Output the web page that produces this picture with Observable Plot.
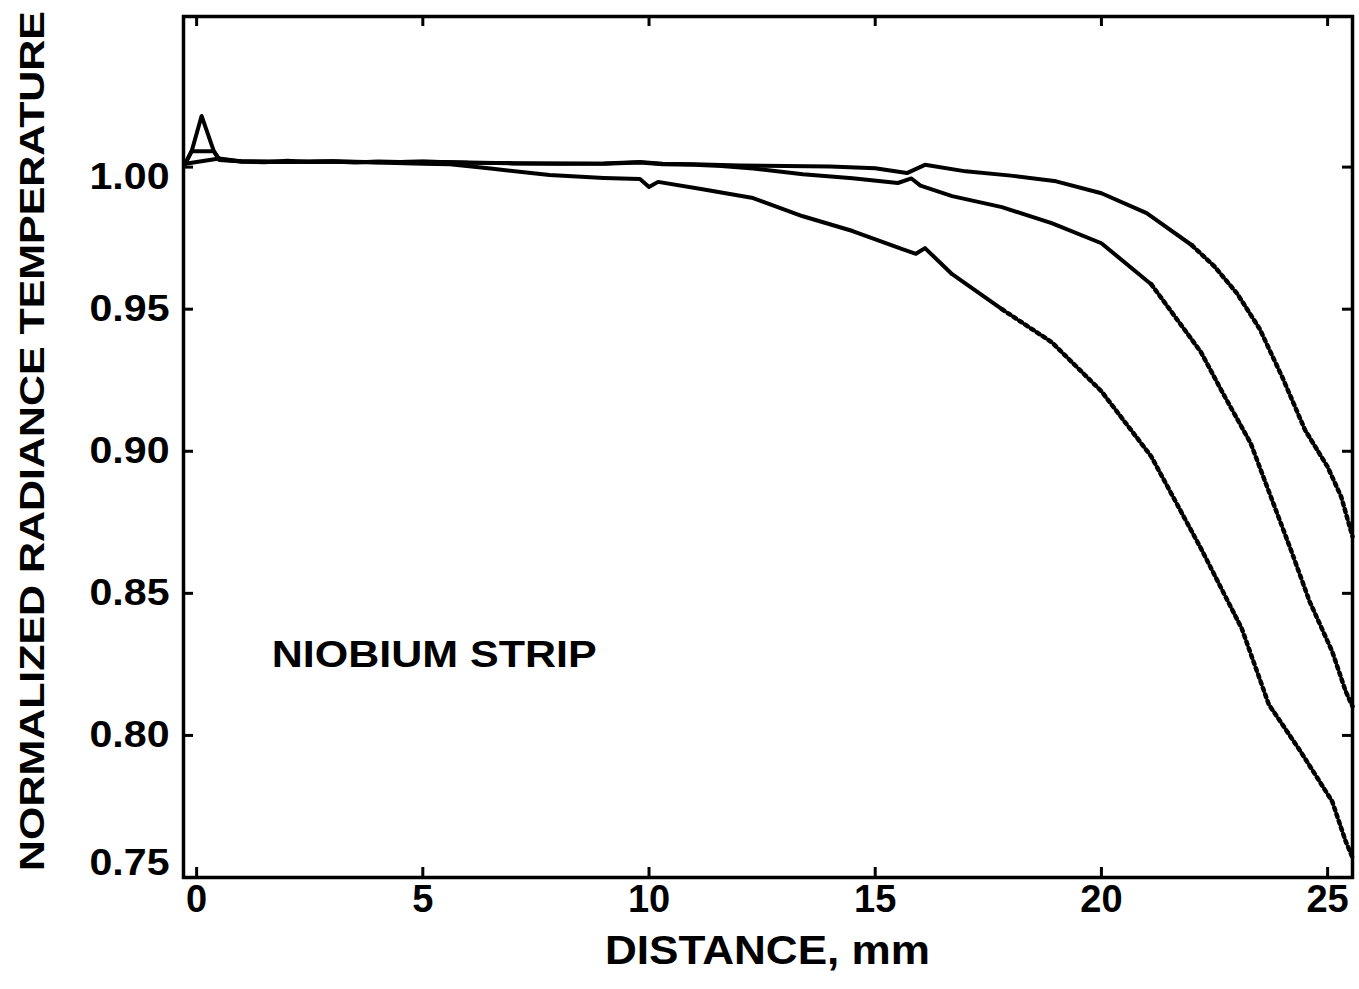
<!DOCTYPE html>
<html><head><meta charset="utf-8">
<script src="https://cdn.jsdelivr.net/npm/d3@7"></script>
<script src="https://cdn.jsdelivr.net/npm/@observablehq/plot@0.6"></script>
<style>body{margin:0;background:#fff;} svg{display:block}</style>
</head><body><div id="chart"></div>
<script>
const xTicks = [0, 5, 10, 15, 20, 25];
const yTicks = [0.75, 0.80, 0.85, 0.90, 0.95, 1.00];
const seriesNames = ["A", "B", "C"];

const distA = [-0.25,0.5,1,1.5,2,2.5,3,3.5,4,4.5,5,6,7,8,9,9.8,10.3,11,12,13,14,15,15.7,16.1,17,18,19,20,21,22,22.5,23,23.5,24,24.5,25,25.3,25.55];
const tempA = [1.0012,1.0030,1.0020,1.0017,1.0022,1.0018,1.0020,1.0016,1.0020,1.0018,1.0020,1.0015,1.0014,1.0012,1.0013,1.0018,1.0012,1.0010,1.0006,1.0004,1.0002,0.9996,0.9979,1.0008,0.9985,0.9970,0.9950,0.9908,0.9838,0.9725,0.9650,0.9555,0.9430,0.9260,0.9075,0.8945,0.8840,0.8700];

const distB = [-0.25,-0.11,0.38,0.5,1,2,3,4,5,6,7,8,9,9.8,10.3,11,11.6,12.3,13.4,14.5,15.5,15.8,16.0,16.7,17.8,18.9,20,21.1,22.2,22.7,23.3,24.2,24.6,25.1,25.4,25.55];
const tempB = [1.0012,1.0056,1.0056,1.0028,1.0020,1.0019,1.0021,1.0017,1.0019,1.0016,1.0013,1.0013,1.0012,1.0016,1.0010,1.0008,1.0004,0.9995,0.9975,0.9961,0.9944,0.9960,0.9935,0.9898,0.9859,0.9803,0.9732,0.9588,0.9349,0.9200,0.9028,0.8648,0.8472,0.8296,0.8155,0.8102];

const distC = [-0.25,-0.11,0.11,0.38,0.5,1,2,3,4,5,5.6,6.5,7.8,9,9.8,10.0,10.2,11.15,12.3,13.4,14.5,15.6,15.9,16.1,16.7,17.8,18.9,20,21.1,22.2,23.1,23.7,24.4,25.1,25.4,25.55];
const tempC = [1.0012,1.0056,1.0180,1.0056,1.0025,1.0020,1.0018,1.0020,1.0016,1.0012,1.0010,0.9995,0.9972,0.9962,0.9958,0.9930,0.9948,0.9923,0.9891,0.9827,0.9775,0.9711,0.9695,0.9715,0.9623,0.9500,0.9384,0.9211,0.8982,0.8658,0.8377,0.8109,0.7944,0.7768,0.7627,0.7570];

const noteText = ["NIOBIUM STRIP"];
const noteX = [1.66];
const noteY = [0.828];

const rows = [];
[[distA, tempA], [distB, tempB], [distC, tempC]].forEach(([ds, vs], i) => {
  ds.forEach((d, j) => rows.push({s: seriesNames[i], d, v: vs[j]}));
});
const notes = noteText.map((t, i) => ({t, x: noteX[i], y: noteY[i]}));

// where each trace becomes steep and its sampled points show as separate dots
const dotStart = {A: 22.0, B: 21.1, C: 17.8};

const W = 1359, H = 989, mL = 183, mR = 7, mT = 16, mB = 112;
const fw = W - mL - mR, fh = H - mT - mB, tk = 10;
const font = "'Liberation Sans', Arial, Helvetica, sans-serif";
const fmt = d3.format(".2f");

const chart = Plot.plot({
  width: W, height: H,
  marginLeft: mL, marginRight: mR, marginTop: mT, marginBottom: mB,
  style: {fontFamily: font, background: "white", color: "black"},
  x: {domain: [-0.29, 25.55], axis: null},
  y: {domain: [0.75, 1.053], axis: null},
  marks: [
    Plot.line(rows.filter(r => r.d <= dotStart[r.s]), {x: "d", y: "v", z: "s", stroke: "black", strokeWidth: 4}),
    Plot.line(rows.filter(r => r.d >= dotStart[r.s]), {x: "d", y: "v", z: "s", stroke: "black", strokeWidth: 4.5, strokeDasharray: "3,4"}),
    Plot.ruleX(xTicks, {x: d => d, insetTop: fh - tk, stroke: "black", strokeWidth: 3}),
    Plot.ruleX(xTicks, {x: d => d, insetBottom: fh - tk, stroke: "black", strokeWidth: 3}),
    Plot.ruleY(yTicks, {y: d => d, insetRight: fw - tk, stroke: "black", strokeWidth: 3}),
    Plot.ruleY(yTicks, {y: d => d, insetLeft: fw - tk, stroke: "black", strokeWidth: 3}),
    Plot.frame({stroke: "black", strokeWidth: 3.5}),
    Plot.text(xTicks, {x: d => d, frameAnchor: "bottom", dy: 34, text: d => String(d), fontSize: 38, fontWeight: "bold", fill: "black"}),
    Plot.text(yTicks.filter(v => v > 0.75 && v < 1), {y: d => d, frameAnchor: "left", dx: -14, textAnchor: "end", text: fmt, fontSize: 36, fontWeight: "bold", fill: "black"}),
    Plot.text(yTicks.filter(v => v >= 1), {y: d => d, frameAnchor: "left", dx: -14, dy: 10, textAnchor: "end", text: fmt, fontSize: 36, fontWeight: "bold", fill: "black"}),
    Plot.text(yTicks.filter(v => v <= 0.75), {y: d => d, frameAnchor: "left", dx: -14, dy: -14, textAnchor: "end", text: fmt, fontSize: 36, fontWeight: "bold", fill: "black"}),
    Plot.text(notes, {x: "x", y: "y", text: "t", textAnchor: "start", fontSize: 36, fontWeight: "bold", fill: "black"}),
    Plot.text(["DISTANCE, mm"], {frameAnchor: "bottom", dx: -163, dy: 86, textAnchor: "start", text: d => d, fontSize: 40, fontWeight: "bold", fill: "black"}),
    Plot.text(["NORMALIZED RADIANCE TEMPERATURE"], {frameAnchor: "left", dx: -151, dy: 424, rotate: -90, textAnchor: "start", text: d => d, fontSize: 35, fontWeight: "bold", fill: "black"})
  ]
});
document.getElementById("chart").appendChild(chart);

const stretch = {"NIOBIUM STRIP": 325, "DISTANCE, mm": 325, "NORMALIZED RADIANCE TEMPERATURE": 860};
d3.select(chart).selectAll("text").each(function() {
  const t = this.textContent;
  if (stretch[t]) d3.select(this).attr("textLength", stretch[t]).attr("lengthAdjust", "spacingAndGlyphs");
  else if (/^\d\.\d\d$/.test(t)) d3.select(this).attr("textLength", 80).attr("lengthAdjust", "spacingAndGlyphs");
});
</script>
</body></html>
